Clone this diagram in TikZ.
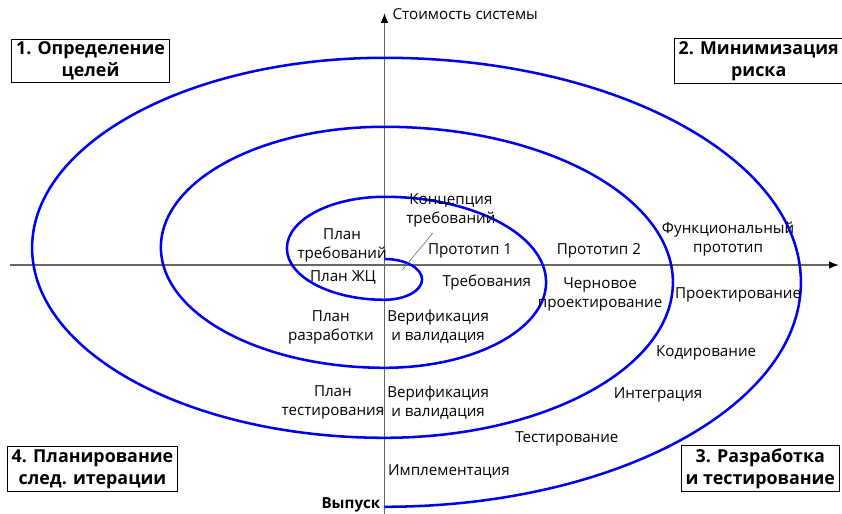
\documentclass[tikz,border=0pt]{standalone}
\usepackage{fontspec}
\setmainfont{Open Sans}
\usetikzlibrary{arrows.meta}
\definecolor{sblue}{HTML}{0000F0}
\definecolor{sgrey}{HTML}{666666}
\tikzset{
  every picture/.style={line width=1pt},
  phase/.style={draw=black, line width=0.8pt, align=center, inner xsep=3pt, inner ysep=2pt, font=\bfseries\fontsize{12.7}{15.5}\selectfont},
  lbl/.style={align=center, inner sep=1pt, font=\fontsize{10.8}{13.5}\selectfont},
  axis/.style={draw=sgrey, line width=1.1pt, -{Latex[length=7pt, width=5.5pt, color=black]}},
  spiral/.style={draw=sblue, line width=1.8pt},
  leader/.style={draw=sgrey, line width=0.4pt},
}

\begin{document}
\begin{tikzpicture}
  \useasboundingbox (-9.6125,-6.225) rectangle (11.4375,6.625);
  % axes
  \coordinate (xleft) at (-9.36,0);
  \coordinate (xright) at (11.36,0);
  \coordinate (ybot) at (0,-6.4);
  \coordinate (ytop) at (0,6.3);
  \draw[axis] (xleft) -- (xright);
  \draw[axis] (ybot) -- (ytop);
  \node[lbl, anchor=west] (cost) at (0.15,6.28) {Стоимость системы};
  % spiral: half ellipses, right ones go down, left ones go up
  \draw[spiral] (0,0.15) arc[start angle=90, end angle=-90, x radius=0.94, y radius=0.51]
    arc[start angle=270, end angle=90, x radius=2.44, y radius=1.2875]
    arc[start angle=90, end angle=-90, x radius=4.04, y radius=2.1375]
    arc[start angle=270, end angle=90, x radius=5.59, y radius=3.0125]
    arc[start angle=90, end angle=-90, x radius=7.21, y radius=3.8875]
    arc[start angle=270, end angle=90, x radius=8.81, y radius=4.75]
    arc[start angle=90, end angle=-90, x radius=10.41, y radius=5.6125];
  \coordinate (p1) at (0.44,-0.125);
  \coordinate (p2) at (1.21,0.8);
  \draw[leader] (p1) -- (p2);
  % quadrants
  \node[phase] (q1) at (-7.35,5.1) {1. Определение\\целей};
  \node[phase] (q2) at (9.355,5.1) {2. Минимизация\\риска};
  \node[phase] (q3) at (9.395,-5.09) {3. Разработка\\и тестирование};
  \node[phase] (q4) at (-7.3,-5.1) {4. Планирование\\след. итерации};
  % stages on the spiral
  \foreach \t/\p [count=\k] in {{Концепция\\требований}/{1.66,1.375}, {План\\требований}/{-1.06,0.5},
    План ЖЦ/{-1.04,-0.3}, Прототип 1/{2.14,0.35}, Требования/{2.56,-0.45}, Прототип 2/{5.36,0.35},
    {Черновое\\проектирование}/{5.39,-0.74}, {Функциональный\\прототип}/{8.59,0.64},
    Проектирование/{8.84,-0.75}, Кодирование/{8.04,-2.2}, Интеграция/{6.84,-3.25},
    Тестирование/{4.56,-4.35}, Имплементация/{1.61,-5.15}, {План\\разработки}/{-1.34,-1.55},
    {Верификация\\и валидация}/{1.34,-1.55}, {План\\тестирования}/{-1.29,-3.44},
    {Верификация\\и валидация}/{1.34,-3.44}}
    \node[lbl] (s\k) at (\p) {\t};
  \node[lbl, anchor=east, font=\bfseries\fontsize{10.8}{13.5}\selectfont] (release) at (-0.05,-6.0) {Выпуск};
\end{tikzpicture}
\end{document}
